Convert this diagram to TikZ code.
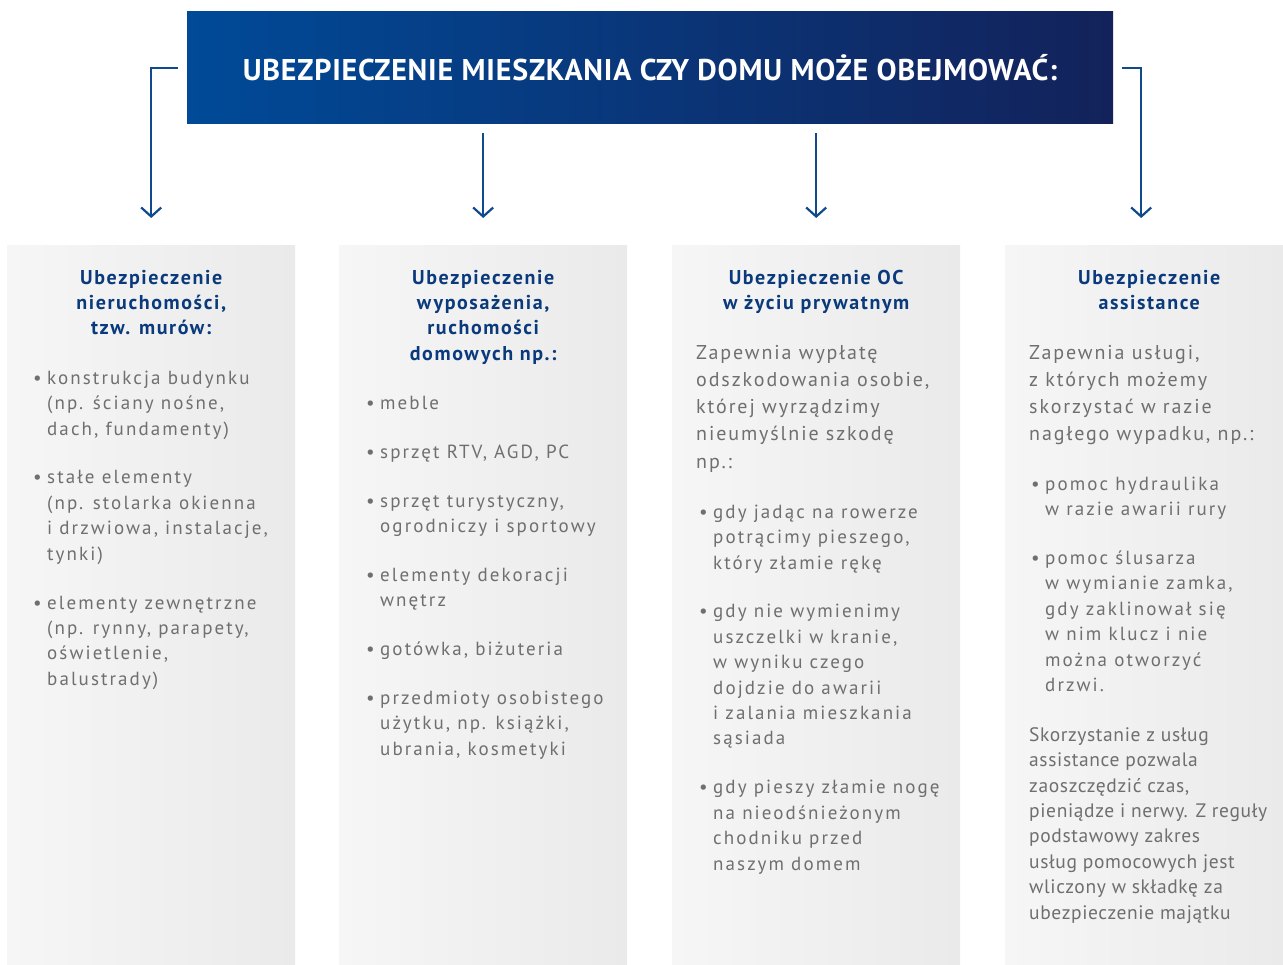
\documentclass[tikz,border=0pt]{standalone}
\usepackage{fontspec}
\setmainfont{PT Sans}
\newfontfamily\titlefont[LetterSpace=2.7]{PT Sans}
\newfontfamily\headfont[LetterSpace=8]{PT Sans}
\newfontfamily\introfont[LetterSpace=9.5]{PT Sans}
\newfontfamily\bodyfont[LetterSpace=11]{PT Sans}
\newfontfamily\notefont[LetterSpace=3.2]{PT Sans}
\usetikzlibrary{arrows.meta,calc}
\definecolor{bannerL}{HTML}{004A98}
\definecolor{bannerR}{HTML}{13225A}
\definecolor{linkblue}{HTML}{104A8C}
\definecolor{headblue}{HTML}{0A3A7C}
\definecolor{bodygray}{HTML}{6F6F6F}
\definecolor{boxL}{HTML}{F6F6F6}
\definecolor{boxR}{HTML}{EAEAEA}
\newcommand\bul{\makebox[14pt][l]{\textbullet}}
\newcommand\ind{\hspace*{14pt}}
\newcommand\topl{\rule{0pt}{22pt}}

\begin{document}
\begin{tikzpicture}[x=1pt,y=-1pt,
  banner/.style={minimum width=926pt,minimum height=112pt,inner sep=0,
    left color=bannerL,right color=bannerR,text=white,
    font=\titlefont\bfseries\fontsize{30}{32}\selectfont},
  column/.style={minimum height=720pt,inner sep=0,anchor=north west,
    left color=boxL,right color=boxR},
  link/.style={draw=linkblue,line width=2.4pt,
    -{Straight Barb[length=9pt,width=20pt,line width=2.2pt]}},
  head/.style={text=headblue,align=center,inner sep=0,anchor=north,
    font=\headfont\bfseries\fontsize{20}{25.3}\selectfont},
  intro/.style={text=bodygray,align=left,inner sep=0,anchor=north west,
    font=\introfont\fontsize{20}{27.2}\selectfont},
  body/.style={text=bodygray,align=left,inner sep=0,anchor=north west,
    font=\bodyfont\fontsize{19}{25.4}\selectfont},
  note/.style={text=bodygray,align=left,inner sep=0,anchor=north west,
    font=\notefont\fontsize{19.5}{25.4}\selectfont}]

\useasboundingbox (0,0) rectangle (1283,965);

% title banner
\node[banner] (banner) at (650,68) {UBEZPIECZENIE MIESZKANIA CZY DOMU MOŻE OBEJMOWAĆ:};

% grey columns
\node[column,minimum width=288pt] (col1) at (7,245) {};
\node[column,minimum width=288pt] (col2) at (339,245) {};
\node[column,minimum width=288pt] (col3) at (672,245) {};
\node[column,minimum width=278pt] (col4) at (1005,245) {};

% arrows
\draw[link] ([xshift=-9pt]banner.west) -| ([yshift=27pt]col1.north);
\draw[link] ([xshift=9pt]banner.east) -| ([xshift=-3pt,yshift=27pt]col4.north);
\foreach \c in {col2,col3}
  \draw[link] ([yshift=-9pt]banner.south -| \c.north) -- ([yshift=27pt]\c.north);

% headings
\node[head] (head1) at ($(col1.north)+(0,17)$) {\topl Ubezpieczenie\\ nieruchomości,\\ tzw. murów:};
\node[head] (head2) at ($(col2.north)+(0,17)$) {\topl Ubezpieczenie\\ wyposażenia,\\ ruchomości\\ domowych np.:};
\node[head] (head3) at ($(col3.north)+(0,17)$) {\topl Ubezpieczenie OC\\ w życiu prywatnym};
\node[head] (head4) at ($(col4.north)+(5,17)$) {\topl Ubezpieczenie\\ assistance};

% column 1
\node[body] (list1) at (33,362) {\topl\bul konstrukcja budynku\\ \ind(np. ściany nośne,\\ \ind dach, fundamenty)\\[23.5pt]
  \bul stałe elementy\\ \ind(np. stolarka okienna\\ \ind i drzwiowa, instalacje,\\ \ind tynki)\\[23.5pt]
  \bul elementy zewnętrzne\\ \ind(np. rynny, parapety,\\ \ind oświetlenie,\\ \ind balustrady)};

% column 2
\node[body] (list2) at (366,387) {\topl\bul meble\\[23.5pt]
  \bul sprzęt RTV, AGD, PC\\[23.5pt]
  \bul sprzęt turystyczny,\\ \ind ogrodniczy i sportowy\\[23.5pt]
  \bul elementy dekoracji\\ \ind wnętrz\\[23.5pt]
  \bul gotówka, biżuteria\\[23.5pt]
  \bul przedmioty osobistego\\ \ind użytku, np. książki,\\ \ind ubrania, kosmetyki};

% column 3
\node[intro] (intro3) at (696,337) {\topl Zapewnia wypłatę\\ odszkodowania osobie,\\ której wyrządzimy\\ nieumyślnie szkodę\\ np.:};
\node[body] (list3) at (699,496) {\topl\bul gdy jadąc na rowerze\\ \ind potrącimy pieszego,\\ \ind który złamie rękę\\[23.5pt]
  \bul gdy nie wymienimy\\ \ind uszczelki w kranie,\\ \ind w wyniku czego\\ \ind dojdzie do awarii\\ \ind i zalania mieszkania\\ \ind sąsiada\\[23.5pt]
  \bul gdy pieszy złamie nogę\\ \ind na nieodśnieżonym\\ \ind chodniku przed\\ \ind naszym domem};

% column 4
\node[intro] (intro4) at (1029,337) {\topl Zapewnia usługi,\\ z których możemy\\ skorzystać w razie\\ nagłego wypadku, np.:};
\node[body] (list4) at (1031,468) {\topl\bul pomoc hydraulika\\ \ind w razie awarii rury\\[23.5pt]
  \bul pomoc ślusarza\\ \ind w wymianie zamka,\\ \ind gdy zaklinował się\\ \ind w nim klucz i nie\\ \ind można otworzyć\\ \ind drzwi.};
\node[note] (note4) at (1029,719) {\topl Skorzystanie z usług\\ assistance pozwala\\ zaoszczędzić czas,\\ pieniądze i nerwy. Z reguły\\ podstawowy zakres\\ usług pomocowych jest\\ wliczony w składkę za\\ ubezpieczenie majątku};

\end{tikzpicture}
\end{document}
